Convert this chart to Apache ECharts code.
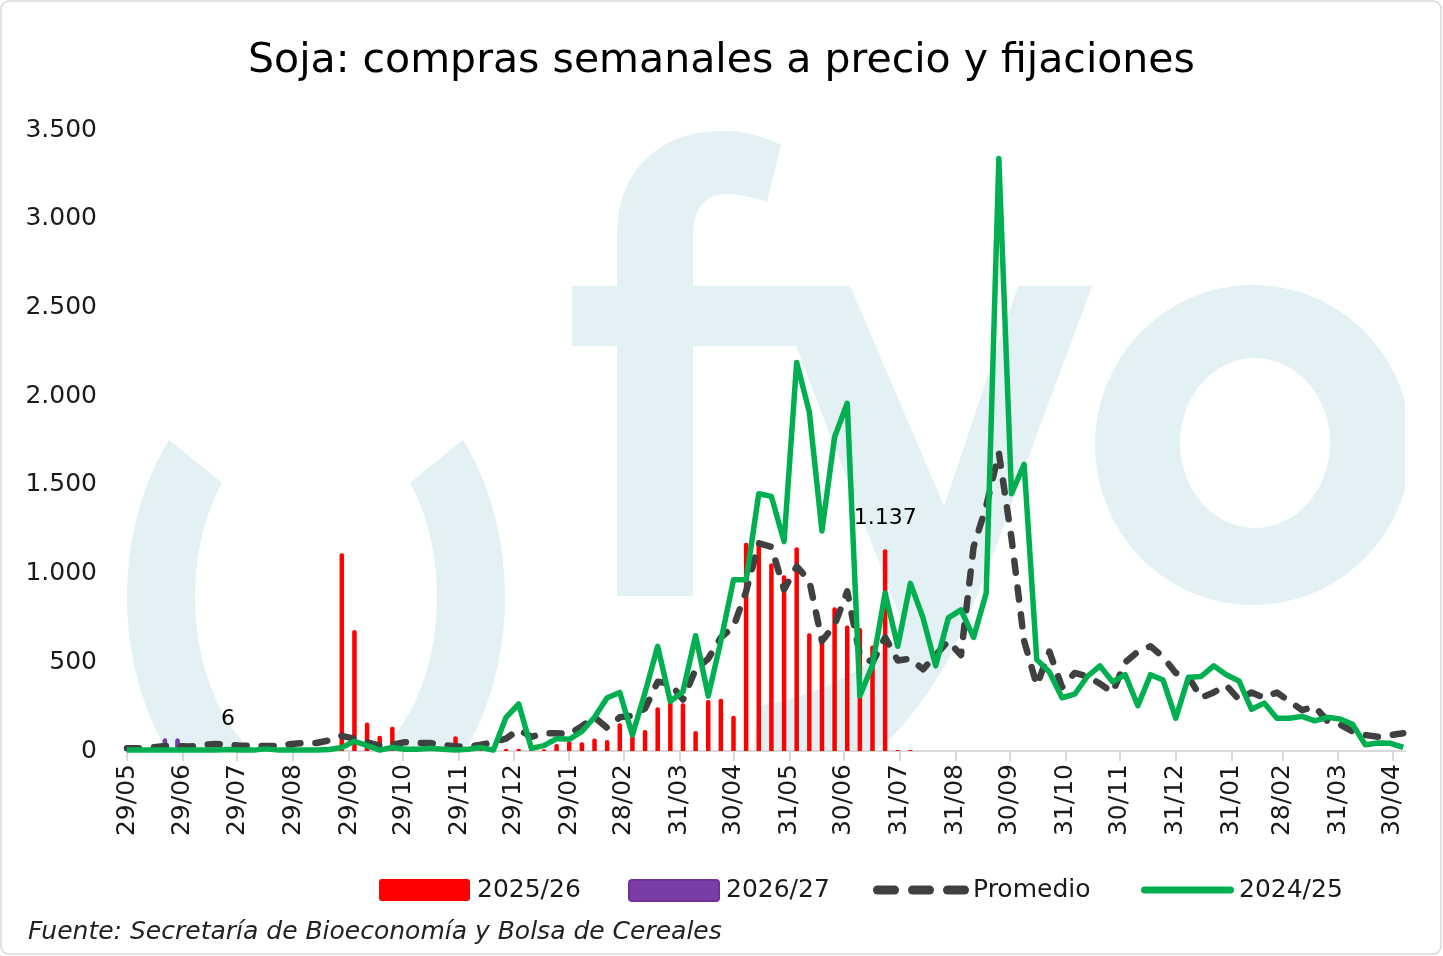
<!DOCTYPE html>
<html>
<head>
<meta charset="utf-8">
<script src="https://cdn.jsdelivr.net/npm/echarts@6/dist/echarts.min.js"></script>
<style>
html,body{margin:0;padding:0;background:#fff;}
#chart{width:1443px;height:956px;}
</style>
</head>
<body>
<div id="chart"></div>
<script>
// ---- DATA (weekly, week k falls k*7 days after weekStart) ----
const weekStart = '2024-05-29';
const tickDates = ['2024-05-29','2024-06-29','2024-07-29','2024-08-29','2024-09-29','2024-10-29','2024-11-29','2024-12-29',
  '2025-01-29','2025-02-28','2025-03-31','2025-04-30','2025-05-31','2025-06-30','2025-07-31','2025-08-31','2025-09-30',
  '2025-10-31','2025-11-30','2025-12-31','2026-01-31','2026-02-28','2026-03-31','2026-04-30'];

const seriesNames = ['2025/26','2026/27','Promedio','2024/25'];

const s2025_26 = [0,0,0,0,0,0,0,0,0,0,0,5,0,30,3,3,10,
  1114,682,160,86,137,5,5,5,5,83,8,5,5,12,12,10,10,40,55,50,70,62,156,90,118,246,278,269,113,287,295,198,
  1174,1189,1058,990,1148,663,648,810,708,693,594,1137,5,5];

const s2026_27 = [null,null,null,72,72,0,0,0,6];

const promedio = [15,15,20,28,28,25,35,40,35,30,30,28,28,40,45,45,60,
  85,70,50,30,35,50,45,45,35,25,25,35,50,70,120,80,100,100,95,
  140,190,130,190,200,240,390,380,290,460,520,640,700,900,
  1170,1150,910,1040,960,620,710,900,540,500,640,510,520,460,
  540,620,540,1150,1380,1680,1200,620,370,560,360,440,
  420,380,330,500,560,590,530,440,420,300,330,370,290,330,300,330,280,230,250,170,150,110,90,80,90,100];

const s2024_25 = [5,5,5,5,5,5,5,5,8,5,5,12,5,5,5,5,8,
  20,55,30,5,20,10,10,15,10,5,10,20,5,
  190,265,15,30,70,66,110,190,300,330,90,330,590,280,335,650,310,620,965,965,
  1450,1435,1180,2190,1910,1240,1770,1960,310,485,890,590,945,750,480,750,795,640,890,3340,
  1450,1615,515,445,300,320,420,480,390,430,255,430,400,185,415,420,480,430,395,235,270,
  185,185,195,170,190,180,150,35,45,43,20];

const labelWeek2025_26 = 60;   // labelled value 1.137
const labelWeek2026_27 = 8;    // labelled value 6

// ---- helpers ----
function dayOffset(iso){
  return Math.round((Date.parse(iso+'T00:00:00Z') - Date.parse(weekStart+'T00:00:00Z'))/86400000);
}
function fmtNum(v){ return String(v).replace(/\B(?=(\d{3})+(?!\d))/g,'.'); }
const tickDays = tickDates.map(dayOffset);
const tickLabel = {};
tickDates.forEach((d,i)=>{ tickLabel[tickDays[i]] = d.slice(8,10)+'/'+d.slice(5,7); });

function pairs(arr, labelIdx){
  return arr.map((v,k)=>{
    if (v === null) return [k*7, null];
    if (k === labelIdx) {
      return {value:[k*7, v], label:{show:true, position:'top', distance:20,
        formatter: p => fmtNum(p.value[1]), fontSize:22, color:'#000', fontFamily:'DejaVu Sans'}};
    }
    return [k*7, v];
  });
}

// ---- watermark geometry helpers (decorative logo behind the plot) ----
const D2R = Math.PI/180;
function arc(cx,cy,a,b,t0,t1,n){
  const p=[]; for(let i=0;i<=n;i++){const t=(t0+(t1-t0)*i/n)*D2R; p.push([cx+a*Math.cos(t), cy+b*Math.sin(t)]);} return p;
}
function cubic(p0,p1,p2,p3,n){
  const p=[]; for(let i=1;i<=n;i++){const t=i/n,u=1-t;
    p.push([u*u*u*p0[0]+3*u*u*t*p1[0]+3*u*t*t*p2[0]+t*t*t*p3[0], u*u*u*p0[1]+3*u*u*t*p1[1]+3*u*t*t*p2[1]+t*t*t*p3[1]]);} return p;
}
function quad(p0,p1,p2,n){
  const p=[]; for(let i=1;i<=n;i++){const t=i/n,u=1-t;
    p.push([u*u*p0[0]+2*u*t*p1[0]+t*t*p2[0], u*u*p0[1]+2*u*t*p1[1]+t*t*p2[1]]);} return p;
}
const leftParen = arc(316,597,189,250,218.9,142,40).concat(arc(316,597,121,182,122.2,218.9,40));
const rightParen = leftParen.map(p=>[632-p[0], p[1]]);
const fShape = [[617,596],[617,234]]
  .concat(cubic([617,234],[617,170],[660,131],[722,131],16))
  .concat(cubic([722,131],[745,131],[765,137],[781,145],8))
  .concat([[767,202]])
  .concat(cubic([767,202],[753,197],[740,194],[726,194],8))
  .concat(cubic([726,194],[705,194],[693,210],[693,234],10))
  .concat([[693,596]]);
const vShape = [[790,286],[850,286],[944,506],[1018,286],[1092,286],[1020,480]]
  .concat(quad([1020,480],[975,610],[945,665],12))
  .concat(quad([945,665],[910,725],[875,751],12))
  .concat([[754,751]])
  .concat(quad([754,751],[754,722],[762,705],8))
  .concat(quad([762,705],[850,690],[905,630],12))
  .concat([[796,346]]);
const oOuter = arc(1253,445,158,160,0,360,120).map(p=>[Math.min(p[0],1405), p[1]]);
const oInner = arc(1255,443,75,85,0,360,90);

const FONT = 'DejaVu Sans';
const WM = '#E3F0F4';
const C_RED = '#FF0000', C_PUR = '#7A3DA8', C_PUR_B = '#7030A0', C_GRAY = '#404040', C_GREEN = '#00B050';

function legendText(x, txt){
  return {type:'text', z:5, silent:true, x:x, y:890,
    style:{text:txt, fontSize:25, fontFamily:FONT, fill:'#1a1a1a', verticalAlign:'middle', align:'left'}};
}

const chart = echarts.init(document.getElementById('chart'), null, {renderer:'canvas'});
chart.setOption({
  animation:false,
  backgroundColor:'#ffffff',
  title:{
    text:'Soja: compras semanales a precio y fijaciones',
    left:'center', top:36,
    textStyle:{fontFamily:FONT, fontSize:41, fontWeight:'normal', color:'#000'}
  },
  graphic:[
    {type:'rect', z:0, silent:true, shape:{x:1,y:1,width:1440,height:953,r:8},
      style:{fill:'none', stroke:'#D9D9D9', lineWidth:1.5}},
    {type:'polygon', z:0, silent:true, shape:{points:leftParen}, style:{fill:WM}},
    {type:'polygon', z:0, silent:true, shape:{points:rightParen}, style:{fill:WM}},
    {type:'polygon', z:0, silent:true, shape:{points:fShape}, style:{fill:WM}},
    {type:'rect', z:0, silent:true, shape:{x:572,y:286,width:224,height:60}, style:{fill:WM}},
    {type:'polygon', z:0, silent:true, shape:{points:vShape}, style:{fill:WM}},
    {type:'polygon', z:0, silent:true, shape:{points:oOuter}, style:{fill:WM}},
    {type:'polygon', z:1, silent:true, shape:{points:oInner}, style:{fill:'#ffffff'}},
    // legend
    {type:'rect', z:5, silent:true, shape:{x:379,y:879,width:91,height:22,r:3}, style:{fill:C_RED}},
    legendText(477, seriesNames[0]),
    {type:'rect', z:5, silent:true, shape:{x:629,y:880,width:90,height:21,r:3}, style:{fill:C_PUR, stroke:C_PUR_B, lineWidth:2}},
    legendText(726, seriesNames[1]),
    {type:'rect', z:5, silent:true, shape:{x:873,y:885.5,width:26,height:9,r:4.5}, style:{fill:C_GRAY}},
    {type:'rect', z:5, silent:true, shape:{x:908,y:885.5,width:26,height:9,r:4.5}, style:{fill:C_GRAY}},
    {type:'rect', z:5, silent:true, shape:{x:943,y:885.5,width:26,height:9,r:4.5}, style:{fill:C_GRAY}},
    legendText(973, seriesNames[2]),
    {type:'rect', z:5, silent:true, shape:{x:1141,y:886.5,width:93,height:7,r:3.5}, style:{fill:C_GREEN}},
    legendText(1239, seriesNames[3]),
    {type:'text', z:5, left:28, top:920, silent:true,
      style:{text:'Fuente: Secretaría de Bioeconomía y Bolsa de Cereales',
        fontStyle:'italic', fontSize:25, fontFamily:FONT, fill:'#222'}}
  ],
  grid:{left:127, right:38, top:130, bottom:205, containLabel:false},
  xAxis:{
    type:'value', min:0, max:708,
    splitLine:{show:false},
    axisLine:{show:true, onZero:false, lineStyle:{color:'#D9D9D9', width:2}},
    axisTick:{show:true, customValues:tickDays, length:10, lineStyle:{color:'#D9D9D9', width:2}},
    axisLabel:{show:true, customValues:tickDays, rotate:90, margin:13,
      fontFamily:FONT, fontSize:25, color:'#1a1a1a',
      formatter: v => tickLabel[v] || ''}
  },
  yAxis:{
    type:'value', min:0, max:3500, interval:500,
    splitLine:{show:false}, axisLine:{show:false}, axisTick:{show:false},
    axisLabel:{margin:30, fontFamily:FONT, fontSize:25, color:'#1a1a1a',
      formatter: v => fmtNum(v)}
  },
  series:[
    {name:seriesNames[0], type:'bar', z:2, barWidth:4.5, barGap:'-100%',
      itemStyle:{color:C_RED, borderRadius:[2,2,0,0]},
      data:pairs(s2025_26, labelWeek2025_26)},
    {name:seriesNames[1], type:'bar', z:2, barWidth:4.5, barGap:'-100%',
      itemStyle:{color:C_PUR, borderColor:C_PUR_B, borderWidth:1, borderRadius:[2,2,0,0]},
      data:pairs(s2026_27, labelWeek2026_27)},
    {name:seriesNames[2], type:'line', z:3, symbol:'none', showSymbol:false,
      itemStyle:{color:C_GRAY},
      lineStyle:{color:C_GRAY, width:6.5, type:[12,15], cap:'round', join:'round'},
      data:pairs(promedio, -1)},
    {name:seriesNames[3], type:'line', z:4, symbol:'none', showSymbol:false,
      itemStyle:{color:C_GREEN},
      lineStyle:{color:C_GREEN, width:5.5, join:'round'},
      data:pairs(s2024_25, -1)}
  ]
});
</script>
</body>
</html>
